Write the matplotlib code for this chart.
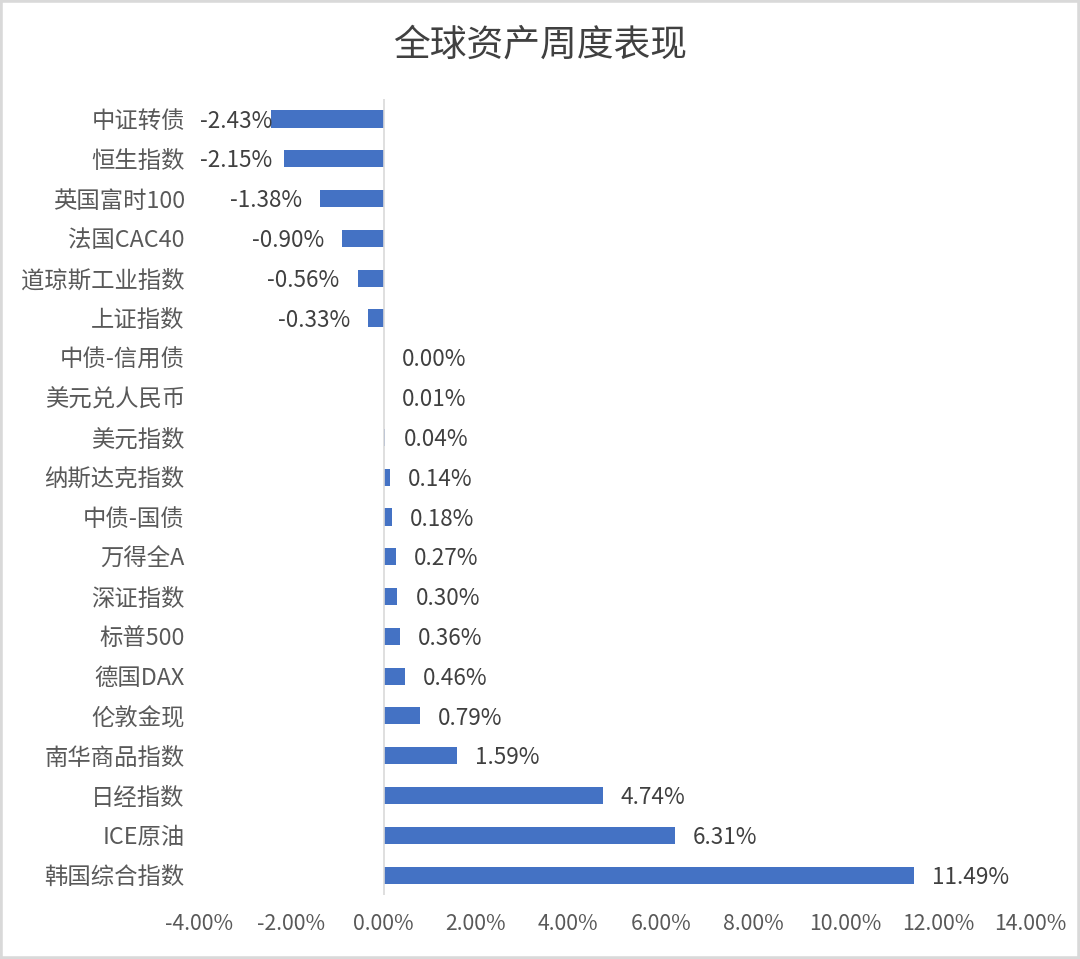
import matplotlib
matplotlib.use('Agg')
import matplotlib.pyplot as plt
from matplotlib.patches import Rectangle

plt.rcParams['font.family'] = ['Noto Sans CJK SC', 'DejaVu Sans']

names = ['中证转债', '恒生指数', '英国富时100', '法国CAC40', '道琼斯工业指数', '上证指数',
         '中债-信用债', '美元兑人民币', '美元指数', '纳斯达克指数', '中债-国债', '万得全A',
         '深证指数', '标普500', '德国DAX', '伦敦金现', '南华商品指数', '日经指数',
         'ICE原油', '韩国综合指数']
returns = [-2.43, -2.15, -1.38, -0.90, -0.56, -0.33, 0.00, 0.01, 0.04, 0.14, 0.18, 0.27,
           0.30, 0.36, 0.46, 0.79, 1.59, 4.74, 6.31, 11.49]
xticks = [-4, -2, 0, 2, 4, 6, 8, 10, 12, 14]

fig = plt.figure(figsize=(10.8, 9.59), dpi=100)
ax = fig.add_axes([0.184, 0.0667, 0.770, 0.830])

ypos = list(range(len(names)))
ax.barh(ypos, returns, height=0.43, color='#4472C4', zorder=2)
ax.set_xlim(-4, 14)
ax.set_ylim(len(names) - 0.5, -0.5)

ax.set_yticks(ypos)
ax.set_yticklabels(names, fontsize=16.8, color='#595959')
ax.tick_params(axis='y', length=0, pad=10)
ax.set_xticks(xticks)
ax.set_xticklabels(['%.2f%%' % t for t in xticks], fontsize=15.3, color='#595959',
                   family=['Liberation Sans Narrow', 'Noto Sans CJK SC'])
ax.tick_params(axis='x', length=0, pad=13)
for s in ax.spines.values():
    s.set_visible(False)
ax.axvline(0, color='#d9d9d9', lw=1.2, zorder=3)

fig.canvas.draw()
renderer = fig.canvas.get_renderer()
ax_left_px = ax.transData.transform((-4, 0))[0]
for y, v in zip(ypos, returns):
    txt = '%.2f%%' % v
    if v < 0:
        t = ax.annotate(txt, (v, y), xytext=(-13, -1.5), textcoords='offset points',
                        ha='right', va='center', fontsize=16.2, color='#404040')
        bb = t.get_window_extent(renderer)
        if bb.x0 < ax_left_px:
            t.remove()
            ax.annotate(txt, (-4, y), xytext=(1, -1.5), textcoords='offset points',
                        ha='left', va='center', fontsize=16.2, color='#404040', zorder=4)
    else:
        ax.annotate(txt, (v, y), xytext=(13, -1.5), textcoords='offset points',
                    ha='left', va='center', fontsize=16.2, color='#404040')

fig.text(0.5, 0.953, '全球资产周度表现', ha='center', va='center', fontsize=26.5,
         color='#404040')
fig.patches.append(Rectangle((0, 0), 1, 1, transform=fig.transFigure, fill=False,
                             edgecolor='#d9d9d9', lw=4))

fig.savefig('out.png', dpi=100)
